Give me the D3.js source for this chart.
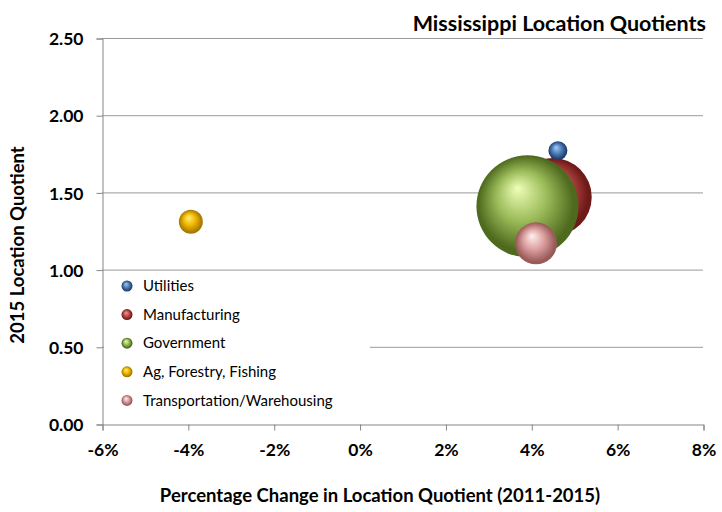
<!DOCTYPE html>
<html>
<head>
<meta charset="utf-8">
<script src="https://cdn.jsdelivr.net/npm/d3@7"></script>
<style>
  body { margin: 0; background: #fff; }
  text { font-family: Lato, "Liberation Sans", sans-serif; }
</style>
</head>
<body>
<div id="chart"></div>
<script>
// data
var industries = ["Utilities", "Manufacturing", "Government", "Ag, Forestry, Fishing", "Transportation/Warehousing"];
var pctChange = [0.0462, 0.045, 0.0391, -0.0393, 0.0411];
var lq2015 = [1.77, 1.47, 1.41, 1.31, 1.17];
var bubbleSize = [9, 152, 260, 14.4, 44];
var drawOrder = [1, 2, 0, 3, 4];

var xTicks = [-0.06, -0.04, -0.02, 0, 0.02, 0.04, 0.06, 0.08];
var yTicks = [0, 0.5, 1, 1.5, 2, 2.5];

var colors = [
  {base: "#4f81bd", light: "#a8ccf5", dark: "#1f3f6b"},
  {base: "#c0504d", light: "#e89a95", dark: "#6e1a18"},
  {base: "#9bbb59", light: "#eeffb8", dark: "#4e6a1e"},
  {base: "#f2b800", light: "#fff27a", dark: "#a87a00"},
  {base: "#dda0a0", light: "#fff0f0", dark: "#9a5a5a"}
];

var width = 722, height = 512;
var plot = {left: 102, right: 703, top: 38, bottom: 424};

var svg = d3.select("#chart").append("svg")
    .attr("width", width)
    .attr("height", height);

var defs = svg.append("defs");
colors.forEach(function(c, i) {
  var g = defs.append("radialGradient")
      .attr("id", "ball" + i)
      .attr("cx", "50%").attr("cy", "50%").attr("r", "55%")
      .attr("fx", "40%").attr("fy", "32%");
  g.append("stop").attr("offset", "0%").attr("stop-color", c.light);
  g.append("stop").attr("offset", "45%").attr("stop-color", c.base);
  g.append("stop").attr("offset", "85%").attr("stop-color", c.dark);
  g.append("stop").attr("offset", "100%").attr("stop-color", c.dark);
});

var x = d3.scaleLinear().domain([-0.06, 0.08]).range([plot.left, plot.right]);
var y = d3.scaleLinear().domain([0, 2.5]).range([plot.bottom, plot.top]);
var r = d3.scaleSqrt().domain([0, d3.max(bubbleSize)]).range([0, 51]);

// gridlines
svg.append("g")
  .selectAll("line")
  .data(yTicks.filter(d => d > 0))
  .enter()
  .append("line")
  .attr("x1", plot.left)
  .attr("x2", plot.right)
  .attr("y1", d => y(d) + 0.5)
  .attr("y2", d => y(d) + 0.5)
  .attr("stroke", "#9a9a9a")
  .attr("stroke-width", 1);

// axes
var pct = d3.format(".0%");
var yAxis = svg.append("g")
    .attr("transform", "translate(" + (plot.left + 0.5) + ",0.5)")
    .call(d3.axisLeft(y).tickValues(yTicks).tickFormat(d3.format(".2f")).tickSize(6).tickPadding(13));
var xAxis = svg.append("g")
    .attr("transform", "translate(0.5," + (plot.bottom + 0.5) + ")")
    .call(d3.axisBottom(x).tickValues(xTicks)
          .tickFormat(d => pct(d).replace("\u2212", "-"))
          .tickSize(6).tickPadding(13));

[xAxis, yAxis].forEach(function(a) {
  a.select(".domain").attr("stroke", "#868686");
  a.selectAll(".tick line").attr("stroke", "#868686");
  a.selectAll(".tick text")
    .attr("fill", "#000")
    .style("font-family", "Lato, sans-serif")
    .style("font-size", "17.5px")
    .style("font-weight", "bold");
});
yAxis.selectAll(".tick text").attr("dy", "0.35em");

// bubbles
svg.append("g")
  .selectAll("circle")
  .data(drawOrder)
  .enter()
  .append("circle")
  .attr("cx", i => x(pctChange[i]))
  .attr("cy", i => y(lq2015[i]))
  .attr("r", i => r(bubbleSize[i]))
  .attr("fill", i => "url(#ball" + i + ")");

// legend
var legend = svg.append("g");
legend.append("rect")
  .attr("x", 104).attr("y", 273)
  .attr("width", 266).attr("height", 142)
  .attr("fill", "#fff");

var legendItems = legend.selectAll(".item")
  .data(industries)
  .enter()
  .append("g")
  .attr("class", "item")
  .attr("transform", (d, i) => "translate(127," + (286 + i * 28.6) + ")");

legendItems.append("circle")
  .attr("r", 5.5)
  .attr("fill", (d, i) => "url(#ball" + i + ")");

legendItems.append("text")
  .attr("x", 16)
  .attr("dy", "0.35em")
  .style("font-size", "15px")
  .attr("fill", "#000")
  .text(d => d);

// titles
svg.append("text")
  .attr("x", 706)
  .attr("y", 31)
  .attr("text-anchor", "end")
  .style("font-size", "21.5px")
  .style("font-weight", "bold")
  .text("Mississippi Location Quotients");

svg.append("text")
  .attr("transform", "translate(24,245) rotate(-90)")
  .attr("text-anchor", "middle")
  .style("font-size", "18.5px")
  .style("font-weight", "bold")
  .text("2015 Location Quotient");

svg.append("text")
  .attr("x", 380)
  .attr("y", 502)
  .attr("text-anchor", "middle")
  .style("font-size", "18.5px")
  .style("font-weight", "bold")
  .text("Percentage Change in Location Quotient (2011-2015)");
</script>
</body>
</html>
